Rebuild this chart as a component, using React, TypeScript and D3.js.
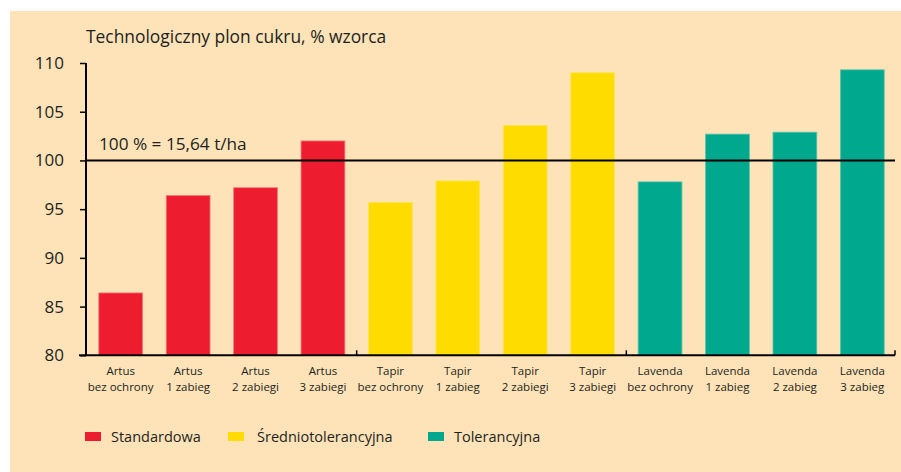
import React, { useEffect, useRef } from 'react';
import * as d3 from 'd3';

const varieties = ['Artus', 'Artus', 'Artus', 'Artus', 'Tapir', 'Tapir', 'Tapir', 'Tapir', 'Lavenda', 'Lavenda', 'Lavenda', 'Lavenda'];
const treatments = ['bez ochrony', '1 zabieg', '2 zabiegi', '3 zabiegi', 'bez ochrony', '1 zabieg', '2 zabiegi', '3 zabiegi', 'bez ochrony', '1 zabieg', '2 zabieg', '3 zabieg'];
const values = [86.4, 96.4, 97.2, 102.0, 95.7, 97.9, 103.6, 109.0, 97.8, 102.7, 102.9, 109.3];
const groups = ['Standardowa', 'Standardowa', 'Standardowa', 'Standardowa', 'Średniotolerancyjna', 'Średniotolerancyjna', 'Średniotolerancyjna', 'Średniotolerancyjna', 'Tolerancyjna', 'Tolerancyjna', 'Tolerancyjna', 'Tolerancyjna'];
const legendNames = ['Standardowa', 'Średniotolerancyjna', 'Tolerancyjna'];
const yTicks = [80, 85, 90, 95, 100, 105, 110];

const FONT = '"Open Sans", sans-serif';

const App = () => {
  const svgRef = useRef<SVGSVGElement>(null);

  useEffect(() => {
    const svg = d3.select(svgRef.current)
      .attr('width', 901)
      .attr('height', 472);
    svg.selectAll('*').remove();

    svg.append('rect')
      .attr('x', 10).attr('y', 11)
      .attr('width', 891).attr('height', 461)
      .attr('fill', '#fee3b9');

    const keys = values.map((_, i) => String(i));

    const x = d3.scaleBand()
      .domain(keys)
      .range([87, 896])
      .paddingInner(0.35)
      .paddingOuter(0.175);

    const y = d3.scaleLinear()
      .domain([80, 110])
      .range([355.3, 63]);

    const color = d3.scaleOrdinal<string, string>()
      .domain(legendNames)
      .range(['#ed1c2e', '#ffdc00', '#00a88e']);
    const edge = d3.scaleOrdinal<string, string>()
      .domain(legendNames)
      .range(['#f57a7a', '#ffe45a', '#5cc4ac']);

    // title
    svg.append('text')
      .attr('x', 86).attr('y', 43)
      .text('Technologiczny plon cukru, % wzorca')
      .attr('fill', '#231f20')
      .style('font-family', FONT)
      .style('font-size', '17.4px');

    // bars
    svg.selectAll('.bar')
      .data(values)
      .enter()
      .append('rect')
      .attr('x', (d, i) => x(String(i))!)
      .attr('y', d => y(d))
      .attr('width', x.bandwidth())
      .attr('height', d => y(80) - y(d))
      .attr('fill', (d, i) => color(groups[i]))
      .attr('stroke', (d, i) => edge(groups[i]))
      .attr('stroke-width', 0.8);

    // y axis
    const yAxis = svg.append('g')
      .attr('transform', 'translate(86, 0)')
      .call(d3.axisLeft(y).tickValues(yTicks).tickSize(6).tickPadding(16).tickFormat(d3.format('d')));
    yAxis.select('.domain').attr('stroke', '#000').attr('stroke-width', 2)
      .attr('d', `M0,${y(110)}V${y(80)}`);
    yAxis.selectAll('.tick line').attr('stroke', '#000').attr('stroke-width', 1.5);
    yAxis.selectAll('.tick text')
      .attr('fill', '#231f20')
      .style('font-family', FONT)
      .style('font-size', '17px');

    // x axis line with group separators
    const bounds = [x('4')! - (x.step() - x.bandwidth()) / 2, x('8')! - (x.step() - x.bandwidth()) / 2, 895];
    svg.append('line')
      .attr('x1', 79).attr('x2', 895)
      .attr('y1', y(80)).attr('y2', y(80))
      .attr('stroke', '#000').attr('stroke-width', 2);
    svg.selectAll('.sep')
      .data(bounds)
      .enter()
      .append('line')
      .attr('x1', d => d).attr('x2', d => d)
      .attr('y1', y(80)).attr('y2', y(80) - 5)
      .attr('stroke', '#000').attr('stroke-width', 1.5);

    // reference line at 100
    svg.append('line')
      .attr('x1', 86).attr('x2', 895)
      .attr('y1', y(100)).attr('y2', y(100))
      .attr('stroke', '#000').attr('stroke-width', 2);
    svg.append('text')
      .attr('x', 99).attr('y', y(100) - 10)
      .text('100 % = 15,64 t/ha')
      .attr('fill', '#231f20')
      .style('font-family', FONT)
      .style('font-size', '17.2px');

    // category labels, two lines each
    const cx = (i: number) => x(String(i))! + x.bandwidth() / 2;
    svg.selectAll('.xlabel1')
      .data(varieties)
      .enter()
      .append('text')
      .attr('x', (d, i) => cx(i))
      .attr('y', 374.5)
      .attr('text-anchor', 'middle')
      .attr('fill', '#231f20')
      .style('font-family', FONT)
      .style('font-size', '11.5px')
      .text(d => d);
    svg.selectAll('.xlabel2')
      .data(treatments)
      .enter()
      .append('text')
      .attr('x', (d, i) => cx(i))
      .attr('y', 390.5)
      .attr('text-anchor', 'middle')
      .attr('fill', '#231f20')
      .style('font-family', FONT)
      .style('font-size', '11.5px')
      .text(d => d);

    // legend
    const legendX = [85, 228, 428];
    const leg = svg.selectAll('.legend')
      .data(legendNames)
      .enter()
      .append('g')
      .attr('transform', (d, i) => `translate(${legendX[i]}, 432)`);
    leg.append('rect')
      .attr('width', 16).attr('height', 9)
      .attr('fill', d => color(d));
    leg.append('text')
      .attr('x', (d, i) => (i === 1 ? 29 : 26))
      .attr('y', 10)
      .text(d => d)
      .attr('fill', '#231f20')
      .style('font-family', FONT)
      .style('font-size', '14.5px');
  }, []);

  return <svg ref={svgRef} style={{ position: 'absolute', left: 0, top: 0 }}></svg>;
};

export default App;
